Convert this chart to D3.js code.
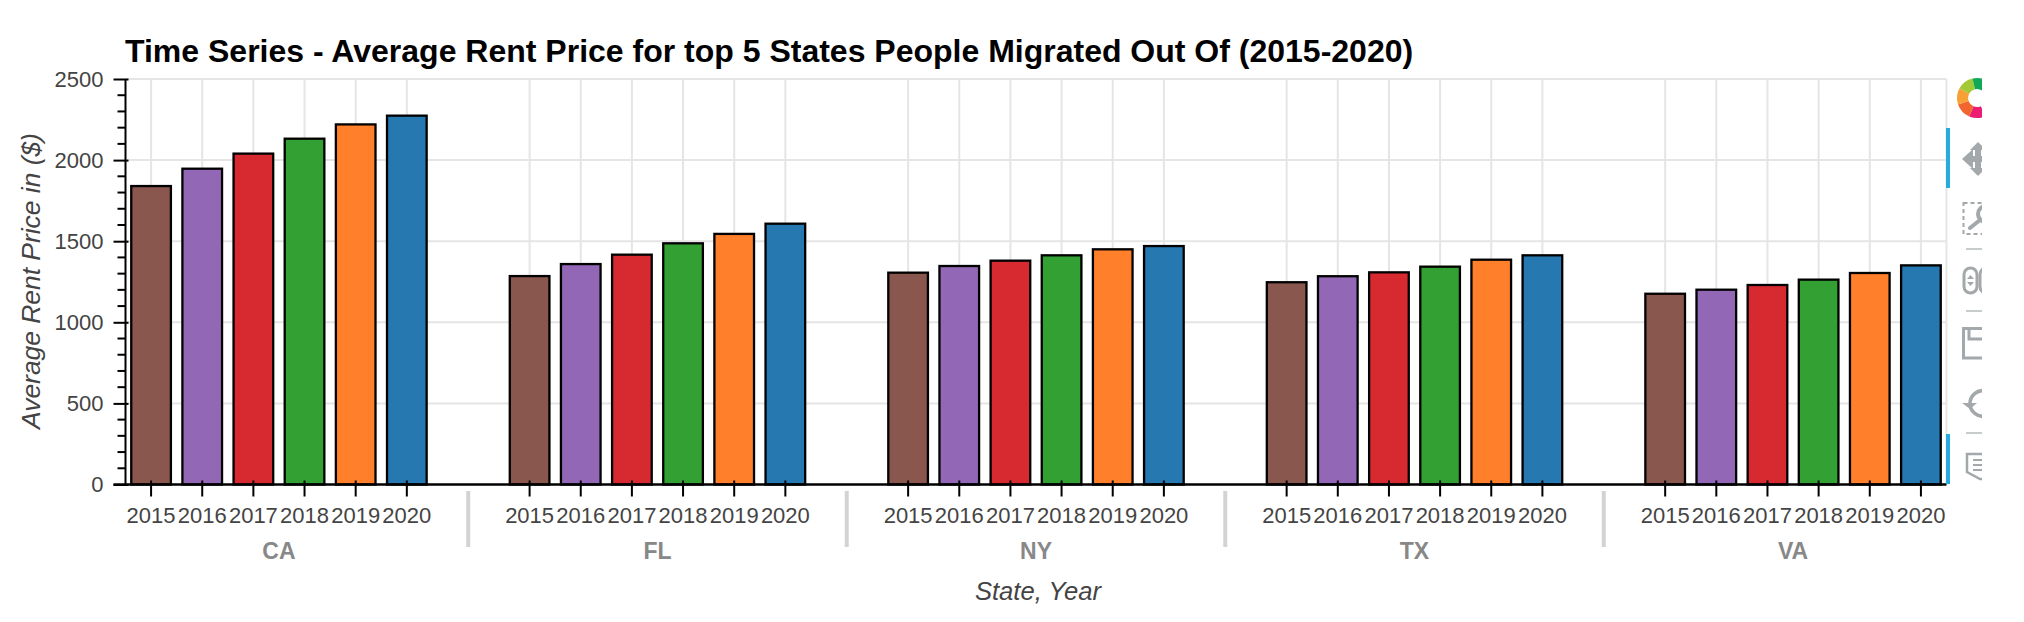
<!DOCTYPE html>
<html><head><meta charset="utf-8">
<script src="https://cdn.jsdelivr.net/npm/d3@7/dist/d3.min.js"></script>
<style>html,body{margin:0;padding:0;background:#fff}svg{display:block}text{font-family:"Liberation Sans",Arial,sans-serif}</style>
</head><body><svg id="c" width="2024" height="622"></svg>
<script>
const states=["CA","FL","NY","TX","VA"];
const years=["2015","2016","2017","2018","2019","2020"];
const colors=["#8a574e","#9267b5","#d62a30","#32a032","#ff7f2a","#2678b0"];
const rentCA=[1840,1947,2040,2132,2220,2274];
const rentFL=[1285,1359,1417,1487,1545,1608];
const rentNY=[1306,1347,1380,1413,1450,1470];
const rentTX=[1247,1284,1308,1343,1386,1413];
const rentVA=[1176,1201,1230,1263,1304,1351];
const rents=[rentCA,rentFL,rentNY,rentTX,rentVA];
const yTicks=[0,500,1000,1500,2000,2500];
const yMinor=d3.range(0,2501,100);
const titleText="Time Series - Average Rent Price for top 5 States People Migrated Out Of (2015-2020)";

const L=125.5,R=1946.5,T=79,B=484.5;
const svg=d3.select("#c");
const groupPad=1.4;
const x0=d3.scaleBand().domain(states).range([L,R]).paddingInner(groupPad/(6+groupPad)).paddingOuter(0);
const x1=d3.scaleBand().domain(years).range([0,x0.bandwidth()]).padding(0);
const y=d3.scaleLinear().domain([0,2500]).range([B,T]);
const barW=x1.bandwidth()*0.775;
const allX=states.flatMap(s=>years.map(yr=>x0(s)+x1(yr)+x1.bandwidth()/2));

// grid
const grid=svg.append("g").attr("stroke","#e5e5e5").attr("stroke-width",2);
grid.selectAll("line.h").data(yTicks.slice(1)).join("line").attr("class","h")
  .attr("x1",L).attr("x2",R).attr("y1",d=>y(d)).attr("y2",d=>y(d));
grid.selectAll("line.v").data(allX).join("line").attr("class","v")
  .attr("x1",d=>d).attr("x2",d=>d).attr("y1",T).attr("y2",B);
grid.append("line").attr("x1",R).attr("x2",R).attr("y1",T).attr("y2",B);

// bars
states.forEach((s,i)=>{
  svg.append("g").selectAll("rect").data(years).join("rect")
    .attr("x",yr=>x0(s)+x1(yr)+(x1.bandwidth()-barW)/2)
    .attr("width",barW)
    .attr("y",(yr,j)=>y(rents[i][j]))
    .attr("height",(yr,j)=>B-y(rents[i][j]))
    .attr("fill",(yr,j)=>colors[j])
    .attr("stroke","#000").attr("stroke-width",2.3);
});

// y axis
const yAxis=svg.append("g").attr("transform",`translate(${L},0)`)
  .call(d3.axisLeft(y).tickValues(yTicks).tickSize(12).tickFormat(d3.format("d")));
yAxis.select(".domain").attr("stroke","#000").attr("stroke-width",2).attr("d",`M0,${T}V${B}`);
yAxis.selectAll(".tick line").attr("stroke","#000").attr("stroke-width",2).attr("x2",3).attr("x1",-12);
yAxis.selectAll(".tick text").attr("font-size",22).attr("fill","#444").attr("x",-22).attr("font-family",'"Liberation Sans"');
yAxis.append("g").selectAll("line").data(yMinor.filter(d=>!yTicks.includes(d))).join("line")
  .attr("x1",-8).attr("x2",0).attr("y1",d=>y(d)).attr("y2",d=>y(d)).attr("stroke","#000").attr("stroke-width",2);

// x axis
svg.append("line").attr("x1",L-12).attr("x2",R).attr("y1",B).attr("y2",B).attr("stroke","#000").attr("stroke-width",2.5);
states.forEach(s=>{
  const g=svg.append("g").attr("transform",`translate(${x0(s)},${B})`);
  const ax=d3.axisBottom(x1).tickSize(0);
  g.call(ax);
  g.select(".domain").remove();
  g.selectAll(".tick text").attr("font-size",22).attr("fill","#444").attr("y",31).attr("dy","0.32em").attr("font-family",'"Liberation Sans"');
  g.selectAll(".tick").append("line").attr("y1",-4).attr("y2",12).attr("stroke","#000").attr("stroke-width",2);
  svg.append("text").attr("x",x0(s)+x0.bandwidth()/2).attr("y",559).attr("text-anchor","middle")
    .attr("font-size",23).attr("font-weight","bold").attr("fill","#888").text(s);
});
// separators
states.slice(1).forEach(s=>{
  const sx=x0(s)-x0.step()*(groupPad/(6+groupPad))/2;
  svg.append("line").attr("x1",sx).attr("x2",sx).attr("y1",491).attr("y2",547).attr("stroke","#d3d3d3").attr("stroke-width",4);
});

// titles
svg.append("text").attr("x",125).attr("y",62).attr("font-size",32).attr("font-weight","bold").attr("fill","#000").text(titleText);
svg.append("text").attr("transform","translate(40,281) rotate(-90)").attr("text-anchor","middle")
  .attr("font-size",26.4).attr("font-style","italic").attr("fill","#444").text("Average Rent Price in ($)");
svg.append("text").attr("x",1038).attr("y",600).attr("text-anchor","middle")
  .attr("font-size",25.6).attr("font-style","italic").attr("fill","#444").text("State, Year");

// toolbar (clipped at its right edge, as in the reference)
svg.append("defs").append("clipPath").attr("id","tb").append("rect").attr("x",1950).attr("y",60).attr("width",32).attr("height",440);
svg.append("g").attr("fill","#27aae1").selectAll("rect").data([[128,188],[434,484]]).join("rect")
  .attr("x",1946).attr("width",4).attr("y",d=>d[0]).attr("height",d=>d[1]-d[0]);
const tb=svg.append("g").attr("clip-path","url(#tb)");
const logoCols=["#ec1c73","#f2652f","#f7a036","#a4c936","#0fa958","#29b8d8"];
const arc=d3.arc().innerRadius(9).outerRadius(20);
tb.append("g").attr("transform","translate(1977,98)").selectAll("path").data(logoCols).join("path")
  .attr("fill",d=>d).attr("d",(d,i)=>arc({startAngle:(-205+i*48)*Math.PI/180,endAngle:(-205+(i+1)*48)*Math.PI/180}));
const gr="#a3a8ab";
const pan=tb.append("g").attr("fill",gr);
pan.append("path").attr("d","M1962,159L1973,149V169Z");
pan.append("rect").attr("x",1970).attr("y",156).attr("width",20).attr("height",6);
pan.append("rect").attr("x",1975).attr("y",146).attr("width",6).attr("height",26);
pan.append("path").attr("d","M1978,142L1986,150H1970Z");
pan.append("path").attr("d","M1978,176L1986,168H1970Z");
tb.append("rect").attr("x",1963.5).attr("y",203).attr("width",30).attr("height",31).attr("fill","none").attr("stroke",gr).attr("stroke-width",2).attr("stroke-dasharray","4 3");
tb.append("circle").attr("cx",1986).attr("cy",214).attr("r",8).attr("fill","#fff").attr("stroke",gr).attr("stroke-width",4);
tb.append("line").attr("x1",1980).attr("y1",220).attr("x2",1970).attr("y2",228).attr("stroke",gr).attr("stroke-width",4).attr("stroke-linecap","round");
tb.append("g").attr("stroke","#c9cccd").attr("stroke-width",2).selectAll("line").data([249,311,433]).join("line")
  .attr("x1",1966).attr("x2",1990).attr("y1",d=>d).attr("y2",d=>d);
tb.append("rect").attr("x",1964).attr("y",268).attr("width",13).attr("height",25).attr("rx",6.5).attr("fill","none").attr("stroke",gr).attr("stroke-width",3);
tb.append("path").attr("fill",gr).attr("d","M1967,279l3.5,-4l3.5,4zM1967,282h7l-3.5,4z");
tb.append("rect").attr("x",1980).attr("y",268).attr("width",13).attr("height",25).attr("rx",6.5).attr("fill","none").attr("stroke",gr).attr("stroke-width",3);
tb.append("path").attr("fill","none").attr("stroke",gr).attr("stroke-width",3).attr("d","M1995,328.5H1963.5V358H1995M1969,328V339H1995");
tb.append("path").attr("fill","none").attr("stroke",gr).attr("stroke-width",3.5).attr("d","M1986,391A13,13 0 0 0 1970,403A13,13 0 0 0 1986,416");
tb.append("path").attr("fill",gr).attr("d","M1962,403h15l-7,6z");
tb.append("path").attr("fill","none").attr("stroke",gr).attr("stroke-width",2.5).attr("d","M1990,454H1967V472L1980,479H1990");
tb.append("g").attr("stroke",gr).attr("stroke-width",2).selectAll("line").data([460,465,470]).join("line")
  .attr("x1",1973).attr("x2",1990).attr("y1",d=>d).attr("y2",d=>d);
</script></body></html>
